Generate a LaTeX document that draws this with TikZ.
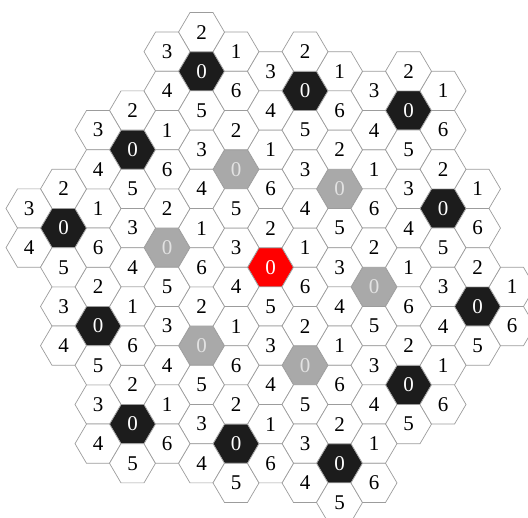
\documentclass[tikz,border=0pt]{standalone}
\usepackage{fontspec}
\setmainfont{Liberation Serif}
\definecolor{hexline}{HTML}{9C9C9C}
\definecolor{hexred}{HTML}{FF0000}
\definecolor{hexgray}{HTML}{A9A9A9}
\definecolor{hexblack}{HTML}{1C1C1C}
\definecolor{txtgray}{HTML}{E2E2E2}
\begin{document}
\begin{tikzpicture}[x=1pt,y=-1pt,
  cell/.style={draw=hexline, line width=0.7pt, line join=miter},
  txt/.style={inner sep=0pt, font=\fontsize{21}{24}\selectfont}]
\useasboundingbox (0,0) rectangle (528,518);
\def\A{34.5}\def\B{39.2}\def\Rx{23}\def\Hy{19.6}
\foreach \qq/\rr/\fc/\tc [count=\ci] in {
  0/0/hexred/white,
  2/-3/hexgray/txtgray, 3/-1/hexgray/txtgray, 1/2/hexgray/txtgray,
  -2/3/hexgray/txtgray, -3/1/hexgray/txtgray, -1/-2/hexgray/txtgray,
  4/-6/hexblack/white, 5/-4/hexblack/white, 6/-2/hexblack/white,
  4/1/hexblack/white, 2/4/hexblack/white, -1/5/hexblack/white,
  -4/6/hexblack/white, -5/4/hexblack/white, -6/2/hexblack/white,
  -4/-1/hexblack/white, -2/-4/hexblack/white, 1/-5/hexblack/white}{
  \foreach \dq/\dr/\lab in {0/0/0, 1/-1/1, 0/-1/2, -1/0/3, -1/1/4, 0/1/5, 1/0/6}{
    \pgfmathsetmacro\X{270.5+\A*(\qq+\dq)}
    \pgfmathsetmacro\Y{267.3+\B*((\rr+\dr)+(\qq+\dq)/2)}
    \ifnum\lab=0 \def\F{\fc}\def\T{\tc}\else\def\F{white}\def\T{black}\fi
    \draw[cell, fill=\F, shift={(\X,\Y)}] (-\Rx,0) -- (-\Rx/2,-\Hy) -- (\Rx/2,-\Hy)
      -- (\Rx,0) -- (\Rx/2,\Hy) -- (-\Rx/2,\Hy) -- cycle;
    \node[txt, text=\T] (c\ci-\lab) at (\X,\Y) {\lab};
  }
}
\end{tikzpicture}
\end{document}
